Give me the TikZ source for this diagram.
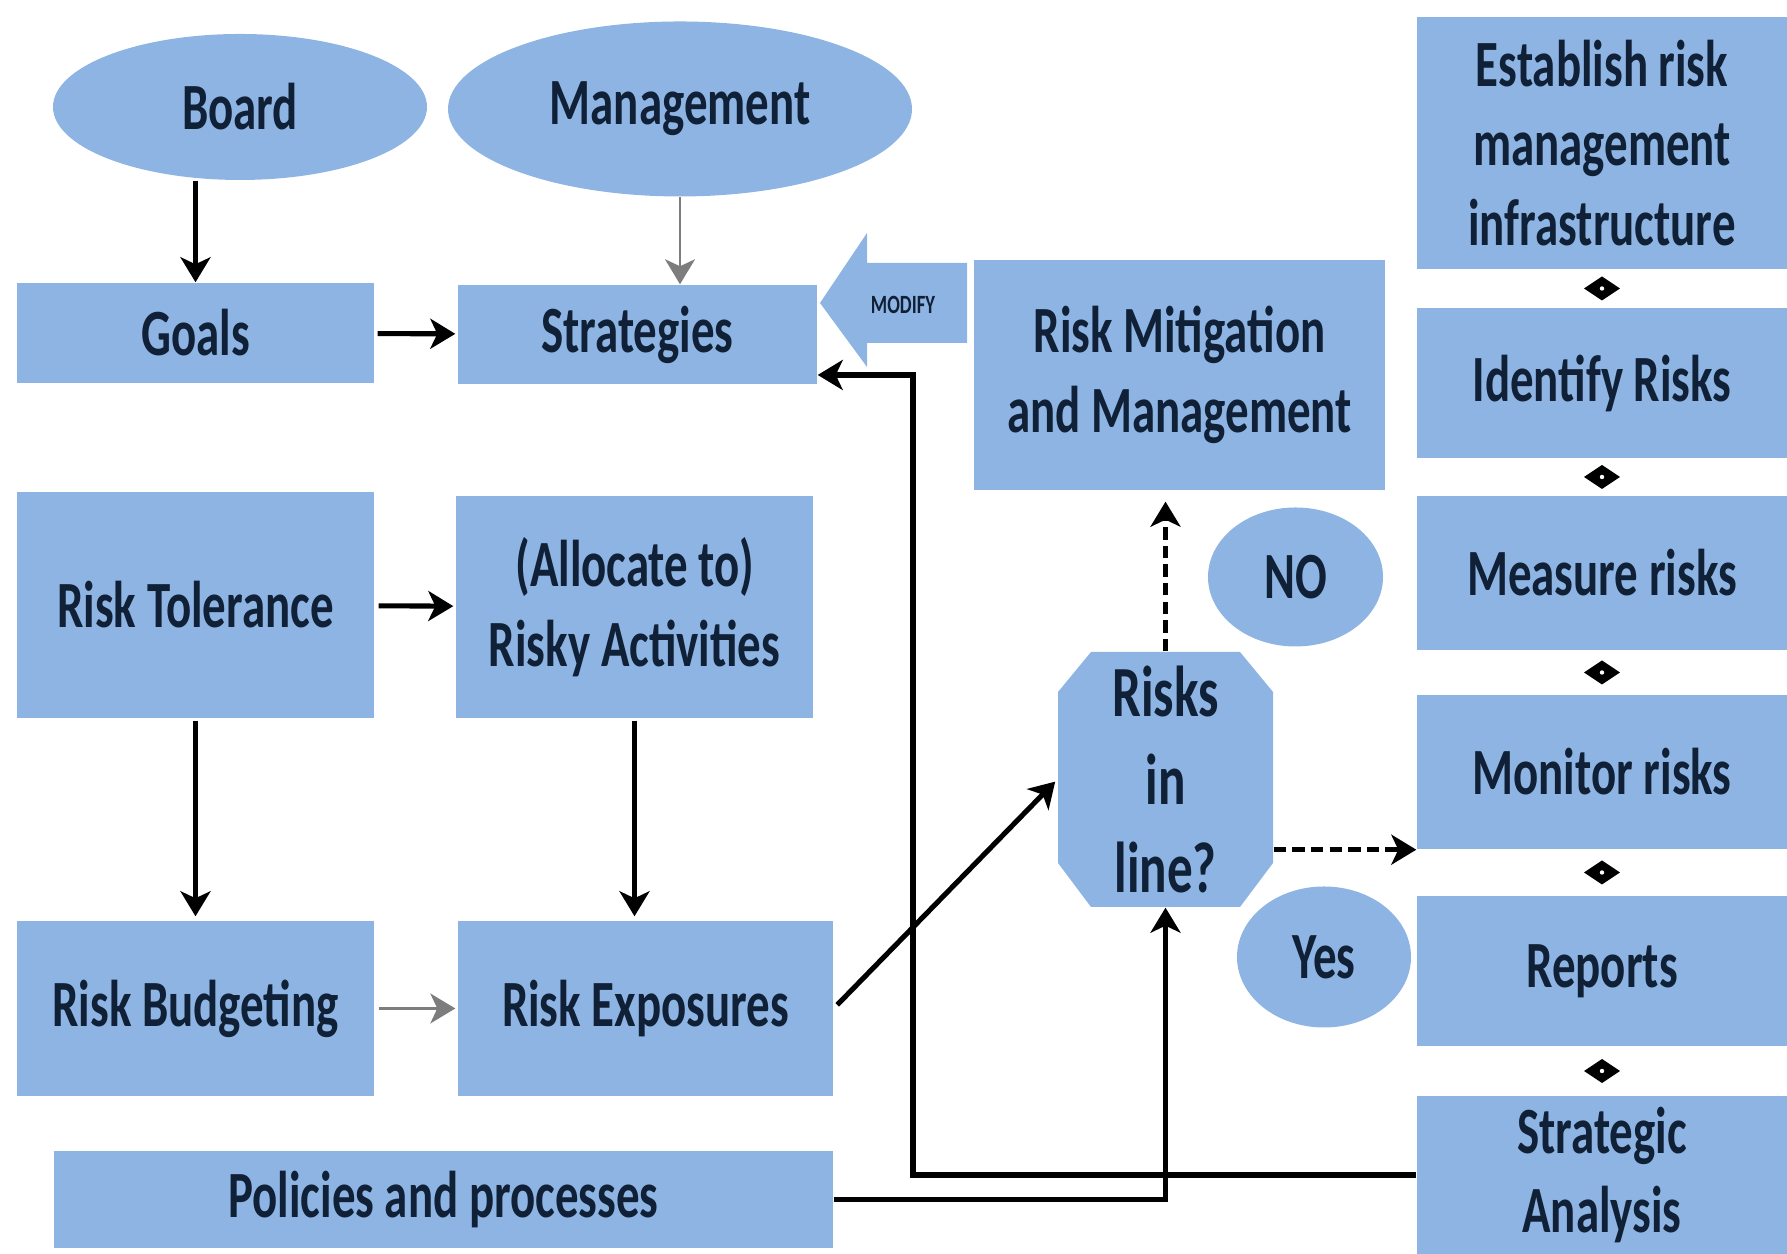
\documentclass[tikz,border=0pt]{standalone}
\usepackage{fontspec}
\setmainfont{Carlito}[FakeStretch=0.71]
\usetikzlibrary{arrows.meta,shapes.geometric,decorations.markings}
\definecolor{box_blue}{RGB}{141,180,226}
\definecolor{text_navy}{RGB}{16,32,54}
\definecolor{edge_gray}{RGB}{125,125,125}

\begin{document}
\begin{tikzpicture}[->,>={Stealth[length=0.25cm,width=0.30cm,inset=0.07cm]}]
    \tikzstyle{label}=[text=text_navy,font=\bfseries\fontsize{18.8pt}{22.7pt}\selectfont]
    \tikzstyle{box}=[style=label,rectangle,fill=box_blue,align=center,inner sep=0pt]
    \tikzstyle{oval}=[style=label,ellipse,fill=box_blue,inner sep=0pt]
    \tikzstyle{bold_edge}=[line width=1.45pt,black]
    \tikzstyle{thin_edge}=[line width=0.6pt,edge_gray]
    \tikzstyle{dash_edge}=[line width=1.45pt,black,dash pattern=on 3.5pt off 1.8pt]
    \tikzstyle{joint}=[decoration={markings,mark=at position 0.5 with {
        \fill[black] (-0.12,0) -- (0,0.18) -- (0.12,0) -- (0,-0.18) -- cycle;
        \fill[white] (0,0) circle (0.022);}},postaction=decorate]
    \useasboundingbox (0,0) rectangle (17.87,12.54);

    % left part
    \node[oval,minimum width=3.74cm,minimum height=1.46cm] (board) at (2.40,11.47) {Board};
    \node[oval,minimum width=4.64cm,minimum height=1.75cm] (mgmt) at (6.80,11.45) {Management};
    \node[box,minimum width=3.57cm,minimum height=1.00cm] (goals) at (1.955,9.21) {Goals};
    \node[box,minimum width=3.59cm,minimum height=0.99cm] (strat) at (6.375,9.195) {Strategies};
    \node[box,minimum width=3.57cm,minimum height=2.26cm] (tol) at (1.955,6.49) {Risk Tolerance};
    \node[box,minimum width=3.57cm,minimum height=2.22cm] (act) at (6.345,6.47) {(Allocate to)\\Risky Activities};
    \node[box,minimum width=3.57cm,minimum height=1.75cm] (bud) at (1.955,2.455) {Risk Budgeting};
    \node[box,minimum width=3.75cm,minimum height=1.75cm] (exp) at (6.455,2.455) {Risk Exposures};
    \node[box,minimum width=7.79cm,minimum height=0.97cm] (pol) at (4.435,0.545) {Policies and processes};

    % modify arrow
    \fill[box_blue] (8.20,9.51) -- (8.67,10.21) -- (8.67,9.91) -- (9.67,9.91)
        -- (9.67,9.11) -- (8.67,9.11) -- (8.67,8.87) -- cycle;
    \node[text=text_navy,font=\bfseries\fontsize{7.5pt}{9pt}\selectfont] (modify_lbl) at (9.03,9.49) {MODIFY};

    % middle part
    \node[box,minimum width=4.11cm,minimum height=2.30cm] (mit) at (11.795,8.79) {Risk Mitigation\\and Management};
    \node[oval,minimum width=1.75cm,minimum height=1.39cm] (no) at (12.955,6.77) {NO};
    \node[oval,minimum width=1.74cm,minimum height=1.41cm] (yes) at (13.24,2.97) {Yes};
    \fill[box_blue] (10.58,5.62) -- (10.91,6.02) -- (12.40,6.02) -- (12.73,5.62)
        -- (12.73,3.91) -- (12.40,3.47) -- (10.91,3.47) -- (10.58,3.91) -- cycle;
    \node[style=label,align=center,inner sep=0pt,minimum width=2.15cm,minimum height=2.55cm,
        font=\bfseries\fontsize{20.5pt}{25pt}\selectfont] (risk) at (11.655,4.745) {Risks\\in\\line?};

    % right column
    \node[box,minimum width=3.70cm,minimum height=2.52cm] (est) at (16.02,11.11) {Establish risk\\management\\infrastructure};
    \node[box,minimum width=3.70cm,minimum height=1.50cm] (idf) at (16.02,8.71) {Identify Risks};
    \node[box,minimum width=3.70cm,minimum height=1.54cm] (mea) at (16.02,6.81) {Measure risks};
    \node[box,minimum width=3.70cm,minimum height=1.54cm] (mon) at (16.02,4.82) {Monitor risks};
    \node[box,minimum width=3.70cm,minimum height=1.50cm] (rep) at (16.02,2.83) {Reports};
    \node[box,minimum width=3.70cm,minimum height=1.58cm] (sta) at (16.02,0.79) {Strategic\\Analysis};

    \path[joint] (est.south) -- (idf.north);
    \path[joint] (idf.south) -- (mea.north);
    \path[joint] (mea.south) -- (mon.north);
    \path[joint] (mon.south) -- (rep.north);
    \path[joint] (rep.south) -- (sta.north);

    \draw[bold_edge] (goals.north |- board.south) -- (goals.north);
    \draw[thin_edge] (mgmt.south) -- (mgmt.south |- strat.north);
    \draw[bold_edge,shorten <=0.03cm,shorten >=0.02cm] (goals) -- (strat);
    \draw[bold_edge,shorten <=0.04cm,shorten >=0.02cm] (tol) -- (act);
    \draw[bold_edge,shorten <=0.02cm,shorten >=0.04cm] (tol) -- (bud);
    \draw[bold_edge,shorten <=0.02cm,shorten >=0.04cm] (act.south) -- (act.south |- exp.north);
    \draw[thin_edge,shorten <=0.04cm,shorten >=0.02cm] (bud) -- (exp);
    \draw[bold_edge,shorten <=0.05cm,shorten >=0.03cm] (exp.east) -- (risk.west);
    \draw[bold_edge] (pol.east) -| (risk.south);
    \coordinate (bend) at (9.13,8.79);
    \draw[bold_edge] (sta.west) -| (bend) -- (bend -| strat.east);
    \draw[dash_edge,shorten >=0.11cm] (risk.north) -- (risk.north |- mit.south);
    \draw[dash_edge] (risk.east |- mon.south) -- (mon.south west);
\end{tikzpicture}
\end{document}
